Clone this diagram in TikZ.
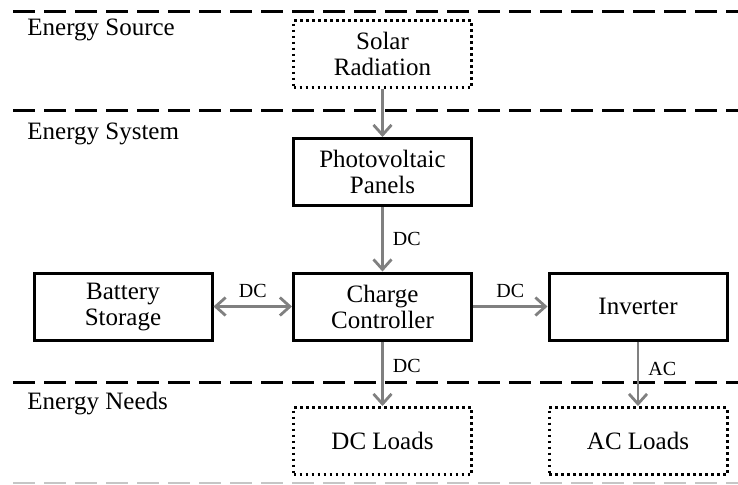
\documentclass[tikz,border=0pt]{standalone}
\usepackage{fontspec}
\setmainfont{Liberation Serif}
\usetikzlibrary{arrows.meta}

\begin{document}
\begin{tikzpicture}[x=0.5pt,y=-0.5pt,>={Straight Barb[length=5pt,width=9pt]},
  block/.style={draw,line width=1.5pt,minimum width=89pt,minimum height=33.5pt,
    inner sep=0pt,align=center,font=\fontsize{12.5}{13}\selectfont},
  outside/.style={block,line width=1.5pt,dash pattern=on 1.4pt off 1.6pt},
  flow/.style={draw=gray,line width=1.4pt,->},
  lbl/.style={font=\fontsize{10}{10}\selectfont,inner sep=2pt},
  layer/.style={line width=1.5pt,dash pattern=on 11pt off 4.5pt},
  zone/.style={anchor=base west,inner sep=0pt,font=\fontsize{12.5}{13}\selectfont}]
  \useasboundingbox (0,0) rectangle (738,484);

  % layers
  \draw[layer] (13,11) -- (738,11);
  \draw[layer] (13,110) -- (738,110);
  \draw[layer] (13,382) -- (738,382);
  \draw[layer,draw=gray!45,line width=1pt] (13,483) -- (738,483);

  \node[zone] (src) at (27,35) {Energy Source};
  \node[zone] (sys) at (27,139) {Energy System};
  \node[zone] (need) at (27,409) {Energy Needs};

  \node[outside] (sun) at (382.5,54) {Solar\\Radiation};
  \node[block] (pv) at (382.5,172) {Photovoltaic\\Panels};
  \node[block] (cc) at (382.5,306.5) {Charge\\Controller};
  \node[block] (bat) at (123,306.5) {Battery\\Storage};
  \node[block] (inv) at (638,306.5) {Inverter};
  \node[outside] (dcl) at (382.5,441) {DC Loads};
  \node[outside] (acl) at (638,441) {AC Loads};

  \path[flow]
    (sun) edge (pv)
    (pv) edge node[lbl,right=2.5pt] {DC} (cc)
    (cc) edge[<->] node[lbl,above=1.5pt] {DC} (bat)
    (cc) edge node[lbl,above=1.5pt] {DC} (inv)
    (cc) edge node[lbl,right=2.5pt,pos=0.38] {DC} (dcl)
    (inv) edge node[lbl,right=2.5pt,pos=0.42] {AC} (acl);
\end{tikzpicture}
\end{document}
